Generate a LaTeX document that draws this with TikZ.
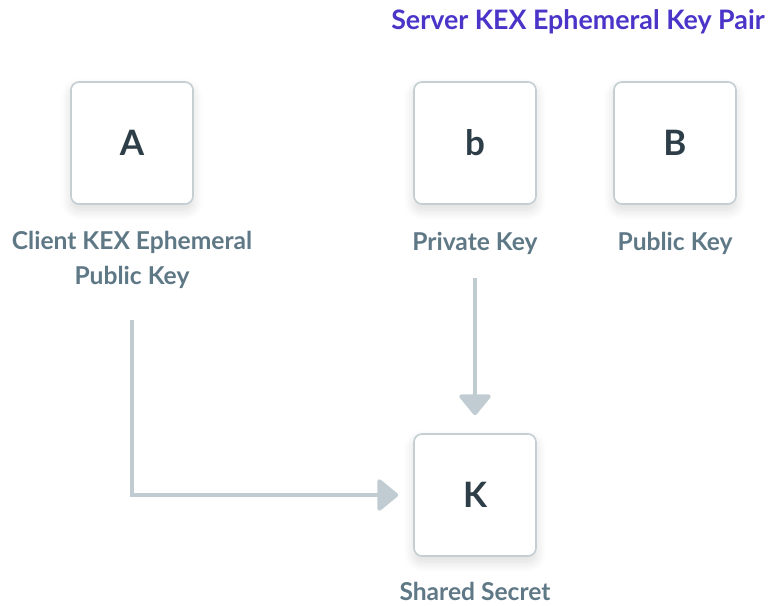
\documentclass[tikz,border=0pt]{standalone}
\usepackage{fontspec}
\setmainfont{Lato}
\usetikzlibrary{arrows.meta,shadows.blur}
\definecolor{keyink}{HTML}{2E3E48}
\definecolor{labelink}{HTML}{5F7886}
\definecolor{titleink}{HTML}{4A35C8}
\definecolor{wire}{HTML}{C0CCD2}
\definecolor{rim}{HTML}{C4CED3}
\tikzset{
  keybox/.style={draw=rim, line width=1.6pt, fill=white, rounded corners=8pt,
    minimum width=122pt, minimum height=122pt, inner sep=0pt,
    font=\fontsize{35}{40}\selectfont\bfseries, text=keyink,
    blur shadow={shadow xshift=0pt, shadow yshift=-6pt, shadow blur radius=10pt,
      shadow opacity=14, shadow blur steps=12}},
  caption/.style={font=\fontsize{24.6}{35}\selectfont\bfseries, text=labelink, align=center, inner sep=0pt},
  conn/.style={draw=wire, line width=4pt,
    -{Triangle[width=35pt,length=22pt,round=false]}},
}
\begin{document}
\begin{tikzpicture}[x=1pt,y=-1pt]
  \useasboundingbox (0,0) rectangle (770,605);
  % heading of the server key pair
  \node[font=\fontsize{26.8}{30}\selectfont\bfseries, text=titleink, inner sep=0pt] (title) at (578,22) {Server KEX Ephemeral Key Pair};
  % key boxes
  \node[keybox] (A) at (132,143) {A};
  \node[keybox] (b) at (475,143) {b};
  \node[keybox] (B) at (675,143) {B};
  \node[keybox] (K) at (475,495) {K};
  % captions
  \node[caption] (clientlbl) at (132,260) {Client KEX Ephemeral\\Public Key};
  \node[caption] (privlbl) at (475,243) {Private Key};
  \node[caption] (publbl) at (675,243) {Public Key};
  \node[caption] (sharedlbl) at (475,591) {Shared Secret};
  % connectors into the shared secret
  \coordinate (fromclient) at (132,320);
  \coordinate (fromprivate) at (475,278);
  \draw[conn, shorten >=18pt] (fromprivate) -- (K.north);
  \draw[conn, shorten >=15pt] (fromclient) |- (K.west);
\end{tikzpicture}
\end{document}
